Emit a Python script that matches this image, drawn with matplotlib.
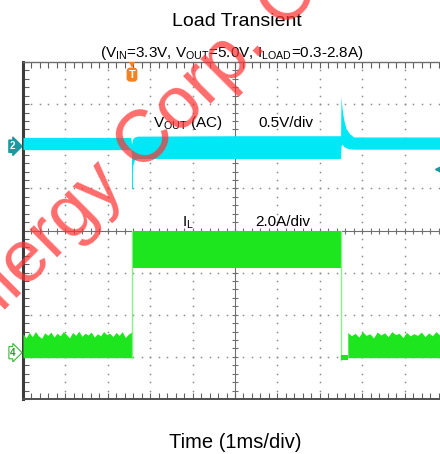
import numpy as np
import matplotlib
matplotlib.use('Agg')
import matplotlib.pyplot as plt

plt.rcParams['font.family'] = ['Liberation Sans', 'DejaVu Sans']
plt.rcParams['mathtext.fontset'] = 'custom'
plt.rcParams['mathtext.rm'] = 'Liberation Sans'
plt.rcParams['mathtext.it'] = 'Liberation Sans:italic'

# ---------------- data (time in 1 ms divisions, amplitude in screen divisions, 0 = centre) -------------
title = "Load Transient"
subtitle = r"(V$_{\mathrm{IN}}$=3.3V, V$_{\mathrm{OUT}}$=5.0V, I$_{\mathrm{LOAD}}$=0.3-2.8A)"
xlabel = "Time (1ms/div)"
watermark_a = "Silergy Corp."
watermark_b = " Confidential"

t_step_up = 2.57
t_step_down = 7.50

# Vout (AC) trace, channel 2: band envelopes
vout_t = [0.00, 2.54, 2.56, 2.57, 2.59, 2.63, 2.70, 5.00, 7.49, 7.50, 7.52, 7.56, 7.62, 7.70, 7.80, 9.83]
vout_hi = [2.21, 2.21, 2.05, 2.10, 2.18, 2.22, 2.24, 2.25, 2.25, 3.18, 2.95, 2.65, 2.42, 2.30, 2.22, 2.22]
vout_lo = [1.92, 1.92, 1.85, 1.02, 1.55, 1.68, 1.71, 1.71, 1.71, 2.00, 2.05, 2.00, 1.96, 1.94, 1.93, 1.93]

# Inductor current, channel 4
il_low_bottom = -3.02
il_low1_top = [-2.45, -2.55, -2.42, -2.52, -2.40, -2.50, -2.56, -2.43, -2.49, -2.41, -2.53, -2.44,
               -2.50, -2.40, -2.47, -2.55, -2.42, -2.49, -2.39, -2.51, -2.44, -2.48, -2.41, -2.53,
               -2.45, -2.50, -2.40, -2.47, -2.44, -2.52, -2.42, -2.49, -2.40, -2.54, -2.46, -2.41]
il_high_top = -0.02
il_high_bottom = -0.88
il_dip = [-3.08, -2.95]
il_low2_top = [-2.42, -2.50, -2.44, -2.53, -2.40, -2.49, -2.45, -2.55, -2.41, -2.48, -2.43, -2.52,
               -2.40, -2.47, -2.44, -2.54, -2.42, -2.50, -2.45, -2.49, -2.41, -2.52, -2.43, -2.50,
               -2.40, -2.48, -2.44, -2.53]

# ---------------- figure -------------
W, H = 440, 454
fig = plt.figure(figsize=(W / 100, H / 100), dpi=100)
ax = fig.add_axes([23 / W, 55 / H, 424 / W, 337 / H])
ax.set_xlim(0, 10)
ax.set_ylim(-4, 4)

cyan = '#00e8f6'
green = '#1ee61e'
light_green = '#86f086'

# grid dots
dots_x = np.arange(0, 10.001, 0.2)
dots_y = np.arange(-4, 4.001, 0.2)
for gx in range(1, 10):
    if gx == 5:
        continue
    ax.plot(np.full_like(dots_y, gx), dots_y, ls='none', marker='s', ms=1.1, mew=0, color='#8c8c8c', zorder=1)
for gy in range(-3, 4):
    if gy == 0:
        continue
    ax.plot(dots_x, np.full_like(dots_x, gy), ls='none', marker='s', ms=1.1, mew=0, color='#8c8c8c', zorder=1)

# centre cross with ticks
ax.axhline(0, color='#707070', lw=0.8, zorder=1)
ax.axvline(5, color='#707070', lw=0.8, zorder=1)
ax.plot(dots_x, np.zeros_like(dots_x), ls='none', marker='|', ms=5, mew=0.8, color='#707070', zorder=1)
ax.plot(np.full_like(dots_y, 5), dots_y, ls='none', marker='_', ms=5, mew=0.8, color='#707070', zorder=1)

# Vout trace
ax.fill_between(vout_t, vout_lo, vout_hi, color=cyan, lw=0, zorder=3)
ax.plot([t_step_up, t_step_up], [1.02, 1.9], color=cyan, lw=0.8, zorder=3)

# IL trace
t1 = np.linspace(0, t_step_up - 0.01, len(il_low1_top))
ax.fill_between(t1, il_low_bottom, il_low1_top, color=green, lw=0, zorder=3)
ax.plot([t_step_up, t_step_up], [il_low_bottom, il_high_top], color=light_green, lw=1.0, zorder=3)
ax.fill_between([t_step_up + 0.02, t_step_down], il_high_bottom, il_high_top, color=green, lw=0, zorder=3)
ax.plot([t_step_down, t_step_down], [il_high_top, il_dip[0]], color=light_green, lw=1.0, zorder=3)
ax.fill_between([t_step_down + 0.01, t_step_down + 0.16], il_dip[0], il_dip[1], color=green, lw=0, zorder=3)
t2 = np.linspace(t_step_down + 0.16, 10, len(il_low2_top))
ax.fill_between(t2, il_low_bottom, il_low2_top, color=green, lw=0, zorder=3)

# frame
ax.spines['right'].set_visible(False)
ax.spines['left'].set_linewidth(2.2)
ax.spines['left'].set_color('#3c3c3c')
ax.spines['top'].set_linewidth(1.0)
ax.spines['top'].set_color('#6e6e6e')
ax.spines['bottom'].set_linewidth(1.4)
ax.spines['bottom'].set_color('#505050')
ax.set_xticks(dots_x)
ax.set_yticks(dots_y)
ax.tick_params(axis='x', direction='in', length=4, width=0.8, color='#606060',
               top=True, bottom=True, labelbottom=False, labeltop=False)
ax.tick_params(axis='y', direction='in', length=4, width=0.8, color='#606060',
               left=True, right=False, labelleft=False)

# in-screen labels
ax.text(3.07, 2.45, r"V$_{\mathrm{OUT}}$ (AC)", fontsize=11, ha='left', va='baseline', zorder=5)
ax.text(5.54, 2.45, "0.5V/div", fontsize=11, ha='left', va='baseline', zorder=5)
ax.text(3.75, 0.10, r"I$_{\mathrm{L}}$", fontsize=11, ha='left', va='baseline', zorder=5)
ax.text(5.47, 0.10, "2.0A/div", fontsize=11, ha='left', va='baseline', zorder=5)

# channel markers
ax.text(-0.24, 2.0, '2', ha='center', va='center', color='white', fontsize=7, fontweight='bold',
        bbox=dict(boxstyle='rarrow,pad=0.12', fc='#1a9aa0', ec='#1a9aa0'), clip_on=False, zorder=6)
ax.text(-0.24, -2.90, '4', ha='center', va='center', color='#2a9a2a', fontsize=7, fontweight='bold',
        bbox=dict(boxstyle='rarrow,pad=0.12', fc='white', ec='#3cb43c', lw=0.8), clip_on=False, zorder=6)
ax.plot([9.80], [1.45], marker='<', ms=6, color='#1a9aa0', clip_on=False, zorder=6)
# trigger marker
ax.plot([t_step_up], [3.92], marker='v', ms=5, color='#f5821f', mew=0, clip_on=False, zorder=6)
ax.text(t_step_up, 3.70, 'T', ha='center', va='center', color='white', fontsize=8, fontweight='bold',
        bbox=dict(boxstyle='round,pad=0.12,rounding_size=0.25', fc='#f5821f', ec='#f5821f'), zorder=6)

# titles
fig.text(0.5375, (H - 26) / H, title, fontsize=14, ha='center', va='baseline')
fig.text(0.528, (H - 57) / H, subtitle, fontsize=11, ha='center', va='baseline')
fig.text(0.535, (H - 448) / H, xlabel, fontsize=14.5, ha='center', va='baseline')

# watermark, pinned at the end of "Corp."
wm_x, wm_y, wm_rot, wm_size = 269 / W, (H - 46) / H, 45, 53
wm_style = dict(rotation=wm_rot, rotation_mode='anchor', va='baseline', fontsize=wm_size,
                color=(1.0, 0.2, 0.2), alpha=0.72, zorder=10)
fig.text(wm_x, wm_y, watermark_a, ha='right', **wm_style)
fig.text(wm_x, wm_y, watermark_b, ha='left', **wm_style)

fig.savefig('out.png', dpi=100)
